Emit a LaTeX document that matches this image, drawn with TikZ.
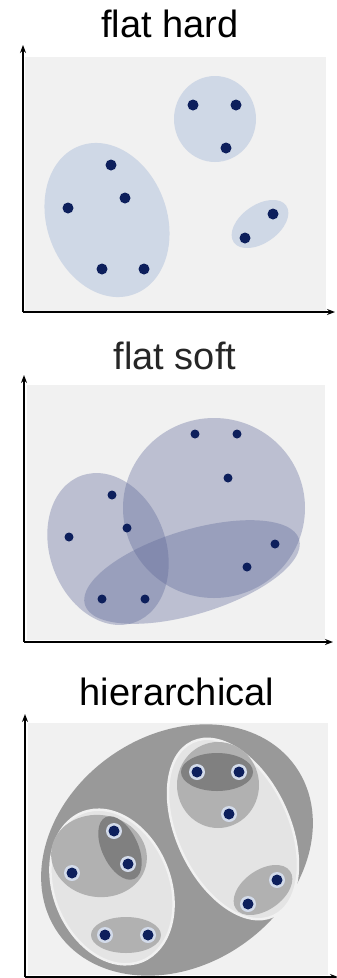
\documentclass[tikz,border=0pt]{standalone}
\usepackage{fontspec}
\setmainfont{Liberation Sans}
\usetikzlibrary{arrows.meta}

\definecolor{bgray}{HTML}{F1F1F1}
\definecolor{hardblue}{HTML}{CFD8E6}
\definecolor{softblue}{HTML}{5A6496}
\definecolor{navy}{HTML}{0D1F5C}
\definecolor{outerg}{HTML}{999999}
\definecolor{lightg}{HTML}{E4E4E4}
\definecolor{midg}{HTML}{B1B1B1}
\definecolor{darkg}{HTML}{808080}
\definecolor{halo}{HTML}{D3DBEA}

\begin{document}
\begin{tikzpicture}[x=1pt, y=-1pt, >={Stealth[length=8pt,width=6pt]}, line width=1.3pt,
    panel/.style={fill=bgray},
    hardblob/.style={fill=hardblue},
    softblob/.style={fill=softblue, fill opacity=0.35},
    dot/.style={fill=navy},
    title/.style={font=\fontsize{38}{40}\selectfont, anchor=base}]
    \useasboundingbox (0,0) rectangle (337,978);

    % flat hard
    \node[title] (hardtitle) at (170,37) {flat hard};
    \fill[panel] (25,57) rectangle (326,311);
    \fill[hardblob] (107,220) ellipse [x radius=60, y radius=79, rotate=20];
    \fill[hardblob] (215,119) ellipse [x radius=41, y radius=43];
    \fill[hardblob] (260,224) ellipse [x radius=32, y radius=19, rotate=35];
    \foreach \x/\y in {193/105, 236/105, 226/148, 111/165, 125/198,
                       68/208, 102/269, 144/269, 273/214, 245/238}
        \fill[dot] (\x,\y) circle (5.5);
    \coordinate (o1) at (23,312);
    \coordinate (y1) at (23,45);
    \coordinate (x1) at (335,312);
    \draw[->] (o1) -- (y1);
    \draw[->] (o1) -- (x1);

    % flat soft
    \node[title, text=black!85] (softtitle) at (175,369) {flat soft};
    \fill[panel] (27,385) rectangle (325,640);
    \fill[softblob] (214,508) ellipse [x radius=91, y radius=90];
    \fill[softblob] (108,549) ellipse [x radius=58, y radius=78, rotate=20];
    \fill[softblob] (192,572) ellipse [x radius=112, y radius=42, rotate=17];
    \foreach \x/\y in {195/434, 237/434, 228/478, 112/495, 127/528,
                       69/537, 102/599, 145/599, 275/544, 247/567}
        \fill[dot] (\x,\y) circle (4.5);
    \coordinate (o2) at (24,642);
    \coordinate (y2) at (24,375);
    \coordinate (x2) at (333,642);
    \draw[->] (o2) -- (y2);
    \draw[->] (o2) -- (x2);

    % hierarchical
    \node[title] (hiertitle) at (177,705) {hierarchical};
    \fill[panel] (28,723) rectangle (328,975);
    \fill[outerg] (177,850) ellipse [x radius=145, y radius=115, rotate=35];
    \filldraw[fill=lightg, draw=bgray, line width=2.5pt] (112,887) ellipse [x radius=58, y radius=80, rotate=22];
    \filldraw[fill=lightg, draw=bgray, line width=2.5pt] (233,829) ellipse [x radius=56, y radius=96, rotate=25];
    \fill[midg] (99,856) ellipse [x radius=48, y radius=41, rotate=-8];
    \fill[midg] (126,935) ellipse [x radius=35, y radius=18];
    \fill[midg] (218,785) ellipse [x radius=41, y radius=43];
    \fill[midg] (263,890) ellipse [x radius=33, y radius=20, rotate=35];
    \fill[darkg] (120,848) ellipse [x radius=18, y radius=34, rotate=25];
    \fill[darkg] (217,772) ellipse [x radius=36, y radius=19];
    \foreach \x/\y in {197/772, 239/772, 229/814, 114/831, 128/864,
                       72/873, 105/935, 148/935, 277/880, 248/904} {
        \fill[halo] (\x,\y) circle (8);
        \fill[dot] (\x,\y) circle (5.5);
    }
    \coordinate (o3) at (25,977);
    \coordinate (y3) at (25,714);
    \coordinate (x3) at (338,977);
    \draw[->] (o3) -- (y3);
    \draw[->] (o3) -- (x3);
\end{tikzpicture}
\end{document}
